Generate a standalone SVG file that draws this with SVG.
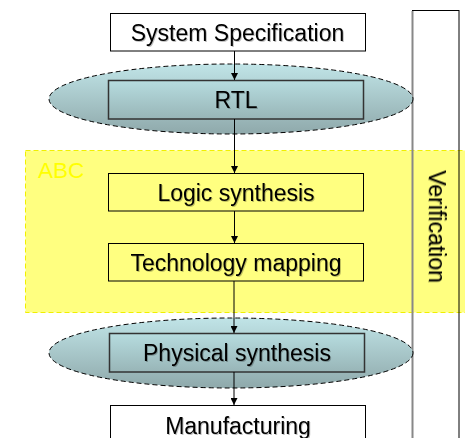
<svg xmlns="http://www.w3.org/2000/svg" width="465" height="438" viewBox="0 0 465 438">
  <defs>
    <linearGradient id="tealFill" x1="0" y1="0" x2="0" y2="1">
      <stop offset="0" stop-color="#c0e4e7"/>
      <stop offset="1" stop-color="#8fa9ab"/>
    </linearGradient>
    <linearGradient id="tealBox" x1="0" y1="0" x2="0" y2="1">
      <stop offset="0" stop-color="#b6dcdf"/>
      <stop offset="1" stop-color="#98b5b7"/>
    </linearGradient>
    <filter id="soft" x="-5%" y="-20%" width="110%" height="140%">
      <feDropShadow dx="1" dy="1" stdDeviation="0.6" flood-color="#000" flood-opacity="0.25"/>
    </filter>
    <marker id="arrow" viewBox="0 0 10 10" refX="10" refY="5" markerWidth="7" markerHeight="7" markerUnits="userSpaceOnUse" orient="auto">
      <path d="M0,0 L10,5 L0,10 Z" fill="#000"/>
    </marker>
  </defs>
  <style>
    .lbl { font-family: "Liberation Sans", Arial, sans-serif; font-size: 23px; fill: #000; text-anchor: middle; }
    .box { fill: #fff; stroke: #000; stroke-width: 1; }
    .clear { fill: none; stroke: #000; stroke-width: 1; }
    .tbox { fill: url(#tealBox); stroke: #333; stroke-width: 1.5; }
    .oval { fill: url(#tealFill); stroke: #000; stroke-width: 1; stroke-dasharray: 5 3; }
    .edge { stroke: #000; stroke-width: 1; fill: none; marker-end: url(#arrow); }
  </style>

  <rect width="465" height="438" fill="#fff"/>

  <!-- ABC region -->
  <g id="abc">
    <rect x="25.5" y="150.5" width="445" height="162" fill="#ffff80" stroke="#f0f000" stroke-width="1" stroke-dasharray="5 3"/>
    <text x="38" y="178" style="font-family:'Liberation Sans', Arial, sans-serif; font-size:22.5px; fill:#ffff00;">ABC</text>
  </g>

  <!-- Verification column -->
  <g id="verification">
    <rect x="412.5" y="10.5" width="46.5" height="440" class="clear"/>
    <line x1="412.5" y1="11" x2="412.5" y2="438" stroke="#888" stroke-width="2"/>
    <text class="lbl" filter="url(#soft)" transform="translate(429,226.5) rotate(90)">Verification</text>
  </g>

  <g id="spec">
    <rect x="110.5" y="13.5" width="255" height="37.5" class="box"/>
    <text class="lbl" x="237.5" y="41" filter="url(#soft)">System Specification</text>
  </g>

  <g id="rtl">
    <ellipse cx="231" cy="99" rx="182" ry="35" class="oval"/>
    <rect x="108.5" y="80.5" width="255" height="38.5" class="tbox"/>
    <text class="lbl" x="236" y="107.5" filter="url(#soft)">RTL</text>
  </g>

  <g id="logic">
    <rect x="108.5" y="173.5" width="255" height="37.5" class="clear"/>
    <text class="lbl" x="236" y="201" filter="url(#soft)">Logic synthesis</text>
  </g>

  <g id="techmap">
    <rect x="108.5" y="243.5" width="255" height="37.5" class="clear"/>
    <text class="lbl" x="236" y="271" filter="url(#soft)">Technology mapping</text>
  </g>

  <g id="physical">
    <ellipse cx="231" cy="353" rx="182" ry="35" class="oval"/>
    <rect x="109.5" y="333.5" width="255" height="38.5" class="tbox"/>
    <text class="lbl" x="237" y="361" filter="url(#soft)">Physical synthesis</text>
  </g>

  <g id="manufacturing">
    <rect x="110.5" y="405.5" width="255" height="40" class="box"/>
    <text class="lbl" x="238" y="434" filter="url(#soft)">Manufacturing</text>
  </g>

  <g id="connectors">
    <line x1="234.5" y1="51" x2="234.5" y2="80" class="edge"/>
    <line x1="234.5" y1="119" x2="234.5" y2="173" class="edge"/>
    <line x1="234.5" y1="211" x2="234.5" y2="243" class="edge"/>
    <line x1="234" y1="281" x2="234" y2="333" class="edge"/>
    <line x1="234" y1="372" x2="234" y2="405" class="edge"/>
  </g>
</svg>
